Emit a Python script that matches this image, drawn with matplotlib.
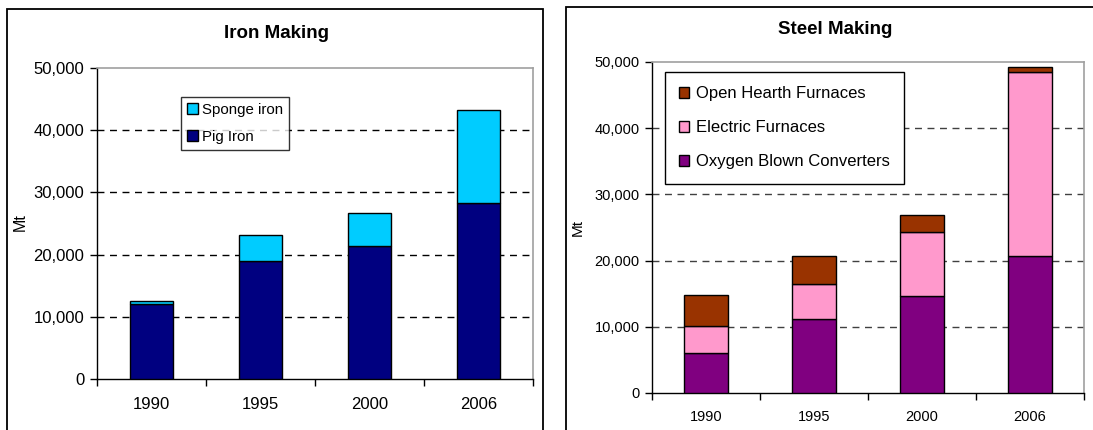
import matplotlib.pyplot as plt
from matplotlib.patches import Rectangle
from matplotlib.ticker import FuncFormatter, FixedLocator
import numpy as np

plt.rcParams['font.family'] = ['Liberation Sans', 'DejaVu Sans']

years = ["1990", "1995", "2000", "2006"]

# iron making (Mt)
pig_iron = [12100, 18900, 21400, 28300]
sponge_iron = [400, 4300, 5300, 14900]

# steel making (Mt)
oxygen_blown = [6000, 11200, 14600, 20700]
electric = [4170, 5300, 9700, 27800]
open_hearth = [4630, 4230, 2570, 800]

W, H = 1093, 430
fig = plt.figure(figsize=(W / 100, H / 100), dpi=100)


def px_axes(x0, y0, x1, y1):
    return fig.add_axes([x0 / W, 1 - y1 / H, (x1 - x0) / W, (y1 - y0) / H])


def style_axes(ax, grid_color, fs, xpad):
    ax.set_xlim(-0.5, 3.5)
    ax.set_ylim(0, 50000)
    ax.set_yticks(np.arange(0, 50001, 10000))
    ax.yaxis.set_major_formatter(FuncFormatter(lambda v, p: f"{int(v):,}"))
    ax.set_xticks(range(4))
    ax.set_xticklabels(years)
    ax.xaxis.set_minor_locator(FixedLocator([-0.5, 0.5, 1.5, 2.5, 3.5]))
    ax.tick_params(axis='x', which='major', length=0, labelsize=fs, pad=xpad)
    ax.tick_params(axis='x', which='minor', length=5, width=1, direction='out')
    ax.tick_params(axis='y', length=5, width=1, labelsize=fs, pad=4)
    for y in range(10000, 50000, 10000):
        ax.axhline(y, color=grid_color, lw=1, ls=(0, (5, 4)), zorder=0)
    ax.spines['top'].set_color('#a0a0a0')
    ax.spines['right'].set_color('#a0a0a0')
    ax.spines['left'].set_linewidth(1)
    ax.spines['bottom'].set_linewidth(1)
    ax.spines['top'].set_linewidth(1.2)
    ax.spines['right'].set_linewidth(1.2)


x = np.arange(len(years))
bw = 0.4

# ---- left: iron making
ax1 = px_axes(97, 68, 533, 379)
b_pig = ax1.bar(x, pig_iron, bw, color='#000080', edgecolor='black', lw=1, zorder=3)
b_sp = ax1.bar(x, sponge_iron, bw, bottom=pig_iron, color='#00CCFF', edgecolor='black', lw=1, zorder=3)
style_axes(ax1, 'black', 12, 13)
ax1.set_ylabel("Mt", fontsize=11.5)
ax1.yaxis.set_label_coords(-0.158, 0.505)
leg1 = ax1.legend([b_sp, b_pig], ['Sponge iron', 'Pig Iron'], loc='upper left',
                  bbox_to_anchor=(0.193, 0.907), borderaxespad=0, fontsize=10.8,
                  frameon=True, fancybox=False, edgecolor='black', handlelength=0.7,
                  handleheight=0.7, handletextpad=0.3, borderpad=0.4, labelspacing=0.85)
leg1.get_frame().set_linewidth(1)

# ---- right: steel making
ax2 = px_axes(652, 62, 1084, 393)
b_ox = ax2.bar(x, oxygen_blown, bw, color='#800080', edgecolor='black', lw=1, zorder=3)
bot = np.array(oxygen_blown)
b_el = ax2.bar(x, electric, bw, bottom=bot, color='#FF99CC', edgecolor='black', lw=1, zorder=3)
bot = bot + np.array(electric)
b_oh = ax2.bar(x, open_hearth, bw, bottom=bot, color='#993300', edgecolor='black', lw=1, zorder=3)
style_axes(ax2, '#404040', 10.5, 12)
ax2.set_ylabel("Mt", fontsize=11)
ax2.yaxis.set_label_coords(-0.155, 0.5)
leg2 = ax2.legend([b_oh, b_el, b_ox], ['Open Hearth Furnaces', 'Electric Furnaces', 'Oxygen Blown Converters'],
                  loc='upper left', bbox_to_anchor=(0.03, 0.97), borderaxespad=0, fontsize=12,
                  frameon=True, fancybox=False, edgecolor='black', handlelength=0.6,
                  handleheight=0.6, handletextpad=0.4, borderpad=0.85, labelspacing=1.15,
                  framealpha=1)
leg2.get_frame().set_linewidth(1)
leg2.set_zorder(5)

# titles
fig.text(276 / W, 1 - 33 / H, "Iron Making", ha='center', va='center', fontsize=13.5, fontweight='bold')
fig.text(835 / W, 1 - 30 / H, "Steel Making", ha='center', va='center', fontsize=13.5, fontweight='bold')

# chart frames
fig.add_artist(Rectangle((7 / W, -0.05), 536 / W, 1.05 - 9 / H, transform=fig.transFigure,
                         fill=False, edgecolor='black', lw=1.3))
fig.add_artist(Rectangle((566 / W, -0.05), 0.6, 1.05 - 6.5 / H, transform=fig.transFigure,
                         fill=False, edgecolor='black', lw=1.3))

fig.savefig("out.png", dpi=100)
